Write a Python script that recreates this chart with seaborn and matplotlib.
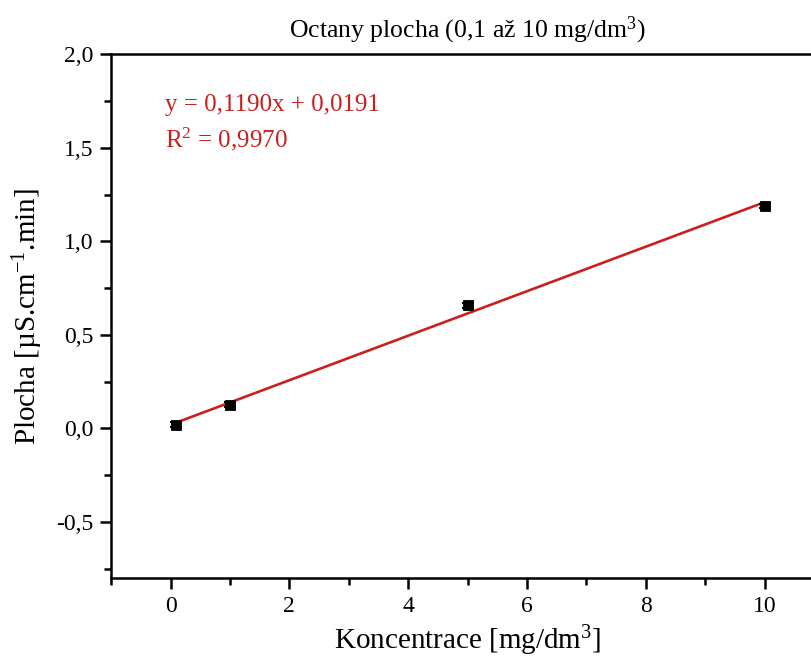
import numpy as np
import pandas as pd
import matplotlib
matplotlib.use("Agg")
import matplotlib.pyplot as plt
import seaborn as sns
from matplotlib.ticker import MultipleLocator, FuncFormatter

# Data
concentration = [0.1, 1.0, 5.0, 10.0]
area = [0.02, 0.127, 0.657, 1.19]
area_err = [0.012, 0.012, 0.012, 0.012]
slope = 0.1190
intercept = 0.0191
fit_x = [0.1, 10.0]
fit_y = [slope * v + intercept for v in fit_x]

sns.set_theme(style="ticks")
plt.rcParams['font.family'] = ['Liberation Serif', 'DejaVu Serif']
plt.rcParams['mathtext.fontset'] = 'custom'
plt.rcParams['mathtext.rm'] = 'Liberation Serif'
plt.rcParams['mathtext.it'] = 'Liberation Serif:italic'
plt.rcParams['mathtext.bf'] = 'Liberation Serif:bold'
plt.rcParams['text.color'] = 'black'
plt.rcParams['axes.labelcolor'] = 'black'

fig = plt.figure(figsize=(8.11, 6.62), dpi=100)
ax = fig.add_axes([0.137, 0.127, 0.879, 0.791])

red = '#C8201F'
df_fit = pd.DataFrame({'x': fit_x, 'y': fit_y})
sns.lineplot(data=df_fit, x='x', y='y', ax=ax, color=red, linewidth=1.9, zorder=2)

df = pd.DataFrame({'x': concentration, 'y': area})
ax.errorbar(concentration, area, yerr=area_err, fmt='none', ecolor='black',
            elinewidth=1.5, capsize=4, capthick=1.5, zorder=3)
sns.scatterplot(data=df, x='x', y='y', ax=ax, marker='s', s=55, color='black',
                edgecolor='black', zorder=4)

ax.set_xlim(-1, 11)
ax.set_ylim(-0.8, 2.0)
ax.xaxis.set_major_locator(MultipleLocator(2))
ax.xaxis.set_minor_locator(MultipleLocator(1))
ax.yaxis.set_major_locator(MultipleLocator(0.5))
ax.yaxis.set_minor_locator(MultipleLocator(0.25))

def comma(v, pos):
    s = f"{v:.1f}".replace('.', ',')
    if s == '-0,0':
        s = '0,0'
    return s

ax.yaxis.set_major_formatter(FuncFormatter(comma))
ax.xaxis.set_major_formatter(FuncFormatter(lambda v, p: f"{v:.0f}"))

for s in ['left', 'bottom', 'top']:
    ax.spines[s].set_linewidth(1.8)
    ax.spines[s].set_color('black')
ax.spines['right'].set_visible(False)

ax.tick_params(axis='both', which='major', direction='out', length=8, width=1.8,
               labelsize=17, colors='black', labelcolor='black', pad=5)
ax.tick_params(axis='both', which='minor', direction='out', length=5, width=1.8,
               colors='black')
ax.tick_params(top=False, right=False, which='both')

ax.set_xlabel('Koncentrace [mg/dm$^{3}$]', fontsize=21, labelpad=5, color='black')
ax.set_ylabel('Plocha [µS.cm$^{-1}$.min]', fontsize=21, labelpad=8, color='black')
ax.set_title('Octany plocha (0,1 až 10 mg/dm$^{3}$)', fontsize=18.5, pad=12,
             color='black')

ax.text(-0.1, 1.73, 'y = 0,1190x + 0,0191', color=red, fontsize=18,
        va='center', ha='left')
ax.text(-0.1, 1.545, 'R$^{2}$ = 0,9970', color=red, fontsize=18,
        va='center', ha='left')

fig.savefig('out.png', dpi=100)
